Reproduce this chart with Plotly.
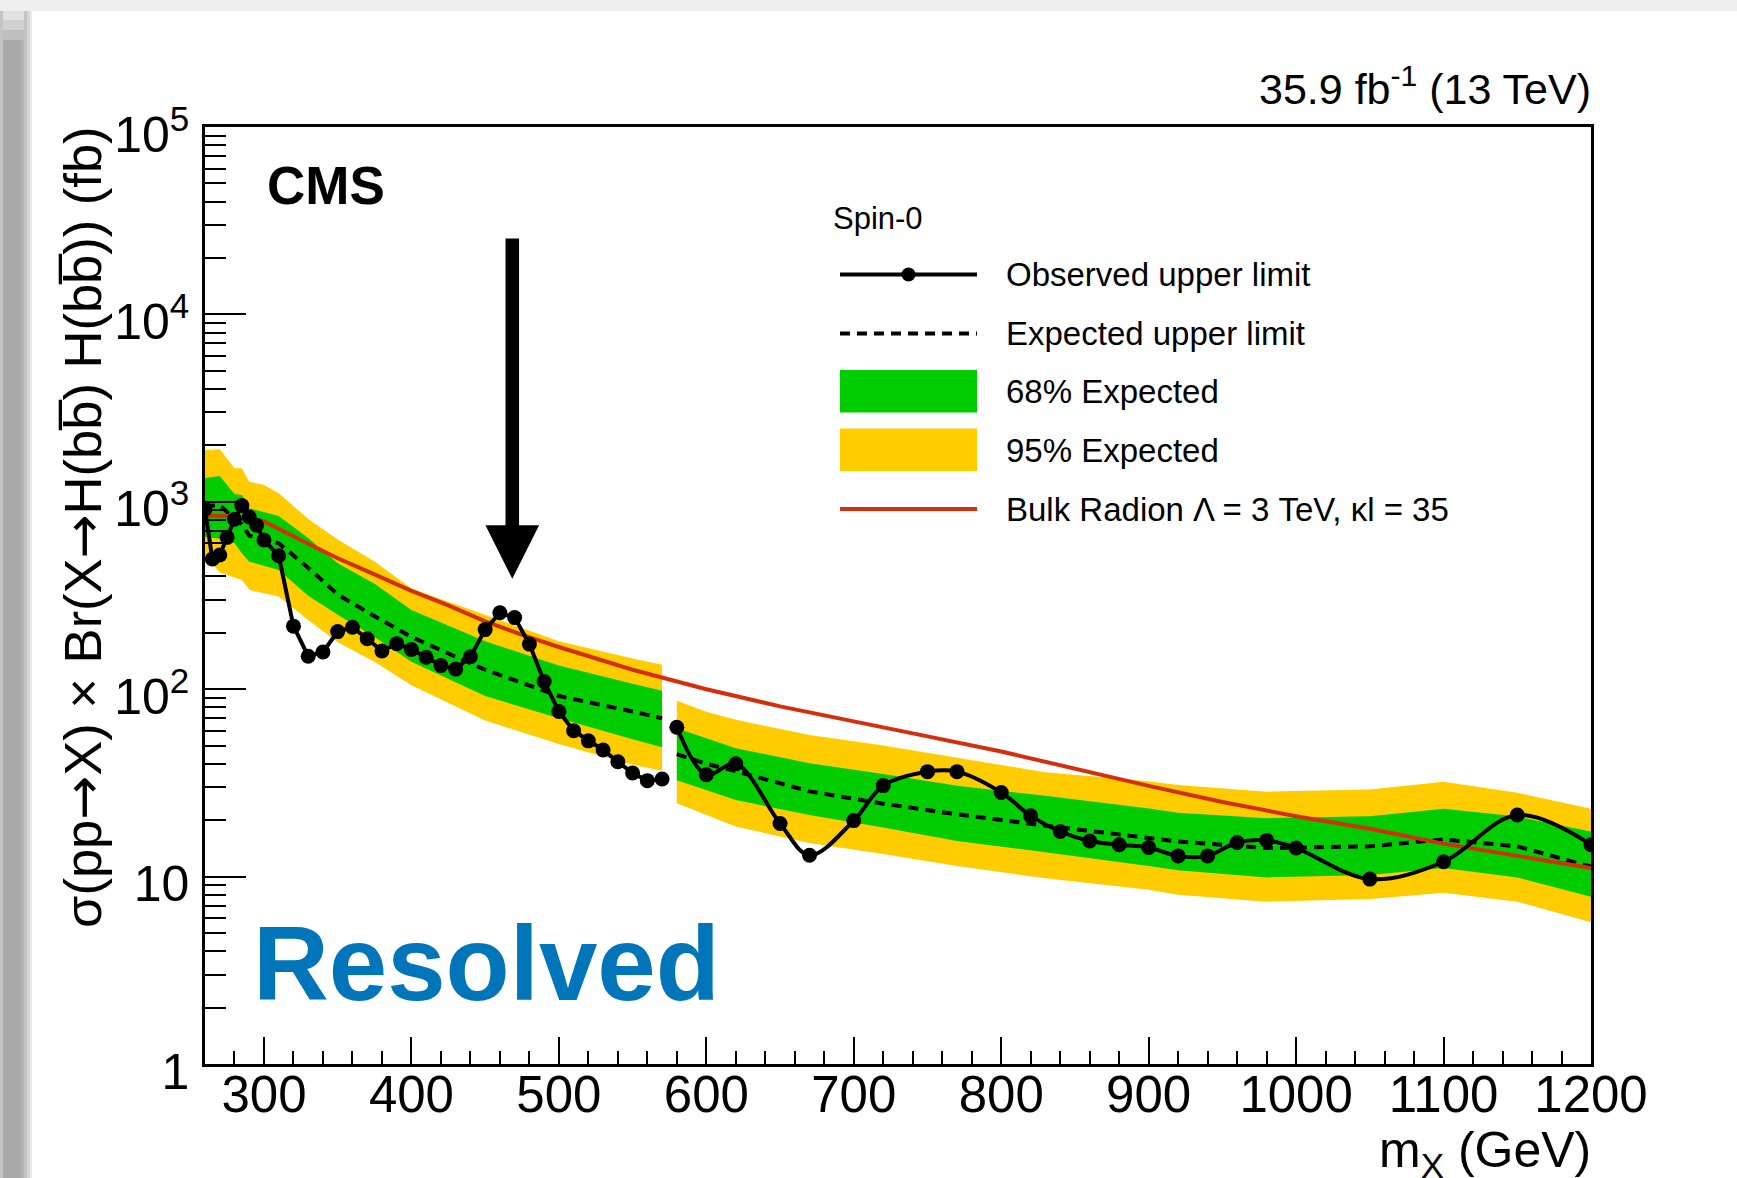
import plotly.graph_objects as go

# ---------------- data ----------------
# Observed 95% CL upper limits, low-mass resolved region (fb)
obs_mass_lo = [260, 265, 270, 275, 280, 285, 290, 295, 300, 310, 320, 330, 340, 350,
               360, 370, 380, 390, 400, 410, 420, 430, 440, 450, 460, 470, 480, 490,
               500, 510, 520, 530, 540, 550, 560, 570]
obs_lim_lo = [912, 495, 520, 646, 807, 955, 830, 750, 625, 515, 217, 150, 158, 203,
              214, 186, 160, 175, 163, 148, 134, 128, 149, 208, 256, 241, 174, 110,
              76, 60, 53, 47.4, 41, 35.7, 32.5, 33.2]

# Observed limits, high-mass resolved region (fb)
obs_mass_hi = [580, 600, 620, 650, 670, 700, 720, 750, 770, 800, 820, 840, 860, 880,
               900, 920, 940, 960, 980, 1000, 1050, 1100, 1150, 1200]
obs_lim_hi = [62.7, 35, 40, 19.2, 13.0, 19.9, 30.6, 36.3, 36.3, 28.1, 21.1, 17.4, 15.5,
              14.8, 14.3, 12.9, 12.9, 15.2, 15.6, 14.2, 9.7, 12.0, 21.3, 14.8]

# Expected limits with 68% / 95% bands, low-mass region
exp_mass_lo = [260, 270, 280, 285, 290, 295, 300, 310, 330, 350, 375, 400, 450, 500, 550, 570]
exp_med_lo = [950, 960, 810, 760, 660, 640, 630, 600, 445, 320, 245, 190, 127, 92, 76, 70]
exp_p1_lo = [1340, 1374, 1100, 1087, 923, 900, 880, 840, 640, 470, 365, 265, 180, 134, 107, 98]
exp_m1_lo = [650, 635, 600, 531, 479, 465, 455, 433, 315, 250, 190, 140, 92, 70, 54, 49]
exp_p2_lo = [1890, 1905, 1510, 1510, 1280, 1255, 1231, 1110, 810, 630, 480, 345, 250, 180, 146, 135]
exp_m2_lo = [520, 420, 395, 383, 339, 330, 325, 312, 234, 178, 140, 105, 68, 51, 39.5, 36.7]

# Expected limits with bands, high-mass region
exp_mass_hi = [580, 600, 620, 670, 720, 770, 830, 900, 920, 980, 1050, 1100, 1150, 1200]
exp_med_hi = [45, 40, 36.5, 28.5, 24.5, 21.5, 18.7, 16.1, 15.4, 14.2, 14.5, 15.8, 14.5, 11.3]
exp_p1_hi = [61.8, 54.7, 48.4, 40.3, 35.3, 30.5, 27.0, 23.1, 21.9, 20.5, 21.0, 23.0, 20.9, 17.4]
exp_m1_hi = [32.7, 29.0, 25.6, 21.3, 18.3, 15.5, 13.5, 11.4, 10.8, 9.9, 10.2, 11.1, 9.9, 7.8]
exp_p2_hi = [86.9, 75.9, 68.6, 57.0, 50.0, 43.0, 36.0, 32.3, 30.8, 28.4, 29.2, 32.1, 28.0, 23.0]
exp_m2_hi = [24.6, 21.3, 18.5, 15.1, 13.2, 11.4, 9.8, 8.5, 8.0, 7.35, 7.6, 8.2, 7.35, 5.7]

# Bulk radion prediction (Lambda = 3 TeV, kl = 35), fb
radion_mass = [260, 270, 280, 290, 300, 325, 350, 375, 400, 425, 450, 475, 500, 550, 600,
               650, 700, 750, 800, 850, 900, 950, 1000, 1050, 1100, 1150, 1200]
radion_xsec = [845, 843, 838, 820, 785, 625, 500, 410, 335, 280, 230, 195, 168, 127, 100,
               81, 67, 56, 46.5, 37.5, 30.5, 25, 21, 18, 15, 12.9, 11.1]

# Axis ticks
x_tick_vals = [300, 400, 500, 600, 700, 800, 900, 1000, 1100, 1200]
x_tick_text = [str(v) for v in x_tick_vals]
y_tick_vals = [1, 10, 100, 1000, 10000, 100000]
y_tick_text = ["1", "10", "10<sup>2</sup>", "10<sup>3</sup>", "10<sup>4</sup>", "10<sup>5</sup>"]

# Arrow marking the local excess (GeV, fb)
arrow_mass = 468.4
arrow_top, arrow_head_base, arrow_tip = 25400, 750, 388
arrow_shaft_halfwidth, arrow_head_halfwidth = 4.6, 18.2

# ---------------- style ----------------
FONT = "Liberation Sans, Arial, Helvetica, sans-serif"
YELLOW = "#ffcc00"
GREEN = "#00cc00"
RED = "#d42f0c"
BLUE = "#0075ba"
DASH = "10px,7px"

W, H = 1737, 1178
ML, MR, MT, MB = 205, 146, 127, 114
PW, PH = W - ML - MR, H - MT - MB


def pxx(xp):
    """page pixel x -> paper fraction"""
    return (xp - ML) / PW


def pxy(yp):
    """page pixel y (from top) -> paper fraction"""
    return (H - MB - yp) / PH


def band(x, lo, hi, color):
    return go.Scatter(x=list(x) + list(x)[::-1], y=list(hi) + list(lo)[::-1],
                      fill="toself", fillcolor=color, mode="lines",
                      line=dict(width=0), hoverinfo="skip", showlegend=False)


fig = go.Figure()

# uncertainty bands
for xm, m2, p2, m1, p1 in [(exp_mass_lo, exp_m2_lo, exp_p2_lo, exp_m1_lo, exp_p1_lo),
                            (exp_mass_hi, exp_m2_hi, exp_p2_hi, exp_m1_hi, exp_p1_hi)]:
    fig.add_trace(band(xm, m2, p2, YELLOW))
    fig.add_trace(band(xm, m1, p1, GREEN))

# expected median
for xm, ym in [(exp_mass_lo, exp_med_lo), (exp_mass_hi, exp_med_hi)]:
    fig.add_trace(go.Scatter(x=xm, y=ym, mode="lines",
                             line=dict(color="black", width=4, dash=DASH),
                             hoverinfo="skip", showlegend=False))

# radion prediction
fig.add_trace(go.Scatter(x=radion_mass, y=radion_xsec, mode="lines",
                         line=dict(color=RED, width=4),
                         hoverinfo="skip", showlegend=False))

# observed limits
fig.add_trace(go.Scatter(x=obs_mass_lo, y=obs_lim_lo, mode="lines+markers",
                         line=dict(color="black", width=4),
                         marker=dict(size=15, color="black"),
                         hoverinfo="skip", showlegend=False))
fig.add_trace(go.Scatter(x=obs_mass_hi, y=obs_lim_hi, mode="lines+markers",
                         line=dict(color="black", width=4, shape="spline", smoothing=1.0),
                         marker=dict(size=15, color="black"),
                         hoverinfo="skip", showlegend=False))

# arrow pointing to the excess
ax_ = [arrow_mass - arrow_shaft_halfwidth, arrow_mass + arrow_shaft_halfwidth,
       arrow_mass + arrow_shaft_halfwidth, arrow_mass + arrow_head_halfwidth,
       arrow_mass, arrow_mass - arrow_head_halfwidth,
       arrow_mass - arrow_shaft_halfwidth, arrow_mass - arrow_shaft_halfwidth]
ay_ = [arrow_top, arrow_top, arrow_head_base, arrow_head_base, arrow_tip,
       arrow_head_base, arrow_head_base, arrow_top]
fig.add_trace(go.Scatter(x=ax_, y=ay_, fill="toself", fillcolor="black", mode="lines",
                         line=dict(width=0), hoverinfo="skip", showlegend=False))

# ---------------- page frame (slide shadow) ----------------
shapes = []
shapes.append(dict(type="rect", xref="paper", yref="paper", x0=pxx(0), x1=pxx(W),
                   y0=pxy(0), y1=pxy(11), fillcolor="#efefef", line=dict(width=0), layer="above"))
shade_steps = [(0, 3, "#c4c4c4"), (3, 21, "#a9a9a9"), (21, 24, "#b3b3b3"),
               (24, 27, "#c2c2c2"), (27, 30, "#d6d6d6"), (30, 32, "#ebebeb")]
for x0, x1, c in shade_steps:
    shapes.append(dict(type="rect", xref="paper", yref="paper", x0=pxx(x0), x1=pxx(x1),
                       y0=pxy(11), y1=pxy(H), fillcolor=c, line=dict(width=0), layer="above"))
top_fade = [(11, 20, "#e2e2e2"), (20, 30, "#d0d0d0"), (30, 40, "#bebebe")]
for y0, y1, c in top_fade:
    shapes.append(dict(type="rect", xref="paper", yref="paper", x0=pxx(3), x1=pxx(24),
                       y0=pxy(y0), y1=pxy(y1), fillcolor=c, line=dict(width=0), layer="above"))

# ---------------- legend (drawn by hand) ----------------
LX0, LX1, LTX = 840, 977, 1004
rows = {"obs": 274.5, "exp": 333.5, "g": 391.5, "y": 450, "th": 509}
shapes.append(dict(type="line", xref="paper", yref="paper", x0=pxx(LX0), x1=pxx(LX1),
                   y0=pxy(rows["obs"]), y1=pxy(rows["obs"]), line=dict(color="black", width=4)))
shapes.append(dict(type="circle", xref="paper", yref="paper", x0=pxx(901.5), x1=pxx(915.5),
                   y0=pxy(rows["obs"] - 7), y1=pxy(rows["obs"] + 7),
                   fillcolor="black", line=dict(width=0)))
shapes.append(dict(type="line", xref="paper", yref="paper", x0=pxx(LX0), x1=pxx(LX1),
                   y0=pxy(rows["exp"]), y1=pxy(rows["exp"]),
                   line=dict(color="black", width=4, dash=DASH)))
shapes.append(dict(type="rect", xref="paper", yref="paper", x0=pxx(LX0), x1=pxx(LX1),
                   y0=pxy(370), y1=pxy(412.5), fillcolor=GREEN, line=dict(width=0)))
shapes.append(dict(type="rect", xref="paper", yref="paper", x0=pxx(LX0), x1=pxx(LX1),
                   y0=pxy(428.5), y1=pxy(471), fillcolor=YELLOW, line=dict(width=0)))
shapes.append(dict(type="line", xref="paper", yref="paper", x0=pxx(LX0), x1=pxx(LX1),
                   y0=pxy(rows["th"]), y1=pxy(rows["th"]), line=dict(color=RED, width=4)))

annotations = []


def text(s, xp, yp, size, xanchor="left", yanchor="middle", color="black", angle=0):
    annotations.append(dict(text=s, xref="paper", yref="paper", x=pxx(xp), y=pxy(yp),
                            xanchor=xanchor, yanchor=yanchor, showarrow=False,
                            textangle=angle, font=dict(family=FONT, size=size, color=color)))


ARROW = '<span style="font-family:DejaVu Sans">→</span>'

text("Spin-0", 830.5, 218, 31)
text("Observed upper limit", LTX, rows["obs"], 33)
text("Expected upper limit", LTX, rows["exp"], 33)
text("68% Expected", LTX, rows["g"], 33)
text("95% Expected", LTX, rows["y"], 33)
text("Bulk Radion Λ = 3 TeV, κl = 35", LTX, rows["th"], 33)

text("<b>CMS</b>", 265, 186, 53)
text("<b>Resolved</b>", 251, 963, 105, color=BLUE)
text("35.9 fb<sup>-1</sup> (13 TeV)", 1593, 86, 43, xanchor="right")
text("m<sub>X</sub> (GeV)", 1593, 1153, 50, xanchor="right")
text("σ(pp" + ARROW + "X) × Br(X" + ARROW + "H(bb\u0305) H(bb\u0305)) (fb)", 83, MT - 3, 52.5,
     xanchor="center", yanchor="top", angle=-90)

fig.update_layout(
    width=W, height=H,
    margin=dict(l=ML, r=MR, t=MT, b=MB, pad=0),
    paper_bgcolor="white", plot_bgcolor="white",
    showlegend=False,
    font=dict(family=FONT, color="black"),
    shapes=shapes, annotations=annotations,
    xaxis=dict(range=[260, 1200], showgrid=False, zeroline=False,
               showline=True, linecolor="black", linewidth=2.5, mirror=True,
               ticks="inside", ticklen=27, tickwidth=2, tickcolor="black",
               tickmode="array", tickvals=x_tick_vals, ticktext=x_tick_text,
               tickfont=dict(family=FONT, size=51, color="black"),
               ticklabelstandoff=-16,
               minor=dict(ticks="inside", ticklen=13, tickwidth=2, tickcolor="black",
                          tickmode="array",
                          tickvals=[v for v in range(280, 1200, 20) if v % 100 != 0],
                          showgrid=False)),
    yaxis=dict(type="log", range=[0, 5], showgrid=False, zeroline=False,
               showline=True, linecolor="black", linewidth=2.5, mirror=True,
               ticks="inside", ticklen=41, tickwidth=2, tickcolor="black",
               tickmode="array", tickvals=y_tick_vals, ticktext=y_tick_text,
               tickfont=dict(family=FONT, size=50, color="black"),
               ticklabelstandoff=3, ticklabelshift=7,
               minor=dict(ticks="inside", ticklen=21, tickwidth=2, tickcolor="black",
                          tickmode="array",
                          tickvals=[m * 10 ** e for e in range(5) for m in range(2, 10)],
                          showgrid=False)),
)

fig.write_html("out.html")
